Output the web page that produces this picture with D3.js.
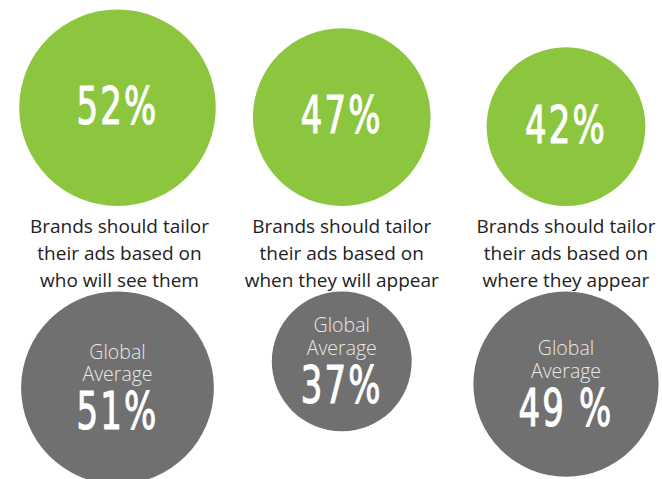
<!DOCTYPE html>
<html>
<head>
<meta charset="utf-8">
<script src="https://cdn.jsdelivr.net/npm/d3@7"></script>
<style>
  html, body { margin: 0; padding: 0; background: #fff; }
  svg { display: block; }
</style>
</head>
<body>
<script>
// ---- data ----
const categories = ["who", "when", "where"];
const brandValues = [52, 47, 42];
const brandLabels = ["52%", "47%", "42%"];
const globalValues = [51, 37, 49];
const globalLabels = ["51%", "37%", "49 %"];
const captionLines = [
  ["Brands should tailor", "their ads based on", "who will see them"],
  ["Brands should tailor", "their ads based on", "when they will appear"],
  ["Brands should tailor", "their ads based on", "where they appear"]
];
const globalTitle = ["Global", "Average"];

// ---- layout ----
const W = 662, H = 479;
const svg = d3.select("body").append("svg").attr("width", W).attr("height", H);

const x = d3.scalePoint().domain(categories).range([117.5, 566]);
const r = d3.scaleLinear().domain([0, 100]).range([0, 189]);

const greenBase = 206;   // green circles sit on this line
const grayTop = 291.5;   // gray circles hang from this line
const numFont = "'DejaVu Sans Condensed', 'DejaVu Sans', sans-serif";
const textFont = "'Open Sans', sans-serif";
const squeeze = 0.74;

function bigNumber(sel, y, labels) {
  sel.append("text").attr("text-anchor", "middle")
    .attr("transform", `translate(0,${y}) scale(${squeeze},1)`)
    .attr("font-family", numFont).attr("font-size", 51).attr("fill", "#fff")
    .attr("stroke", "#fff").attr("stroke-width", 1.1)
    .attr("letter-spacing", 3)
    .text((d, i) => labels[i]);
}

// green circles
const topG = svg.append("g").selectAll("g").data(categories).join("g")
  .attr("transform", (d, i) => `translate(${x(d)},${greenBase - r(brandValues[i])})`);
topG.append("circle").attr("r", (d, i) => r(brandValues[i])).attr("fill", "#8cc63f");
bigNumber(topG, 16, brandLabels);

// captions
const cap = svg.append("g").selectAll("text").data(categories).join("text")
  .attr("text-anchor", "middle")
  .attr("font-family", textFont).attr("font-size", 19).attr("fill", "#222");
cap.each(function(d, i) {
  d3.select(this).selectAll("tspan").data(captionLines[i]).join("tspan")
    .attr("x", x(d) + (i === 0 ? 2 : 0)).attr("y", (t, j) => 233 + j * 27).text(t => t);
});

// gray circles
const botG = svg.append("g").selectAll("g").data(categories).join("g")
  .attr("transform", (d, i) => `translate(${x(d)},${grayTop + r(globalValues[i])})`);
botG.append("circle").attr("r", (d, i) => r(globalValues[i])).attr("fill", "#707070");
botG.append("text").attr("text-anchor", "middle")
  .attr("font-family", textFont).attr("font-weight", 300).attr("font-size", 19.5).attr("fill", "#e8e8e8")
  .selectAll("tspan").data(globalTitle).join("tspan")
  .attr("x", 0).attr("y", (t, j) => -29 + j * 22.5).text(t => t);
bigNumber(botG, 41.5, globalLabels);
</script>
</body>
</html>
